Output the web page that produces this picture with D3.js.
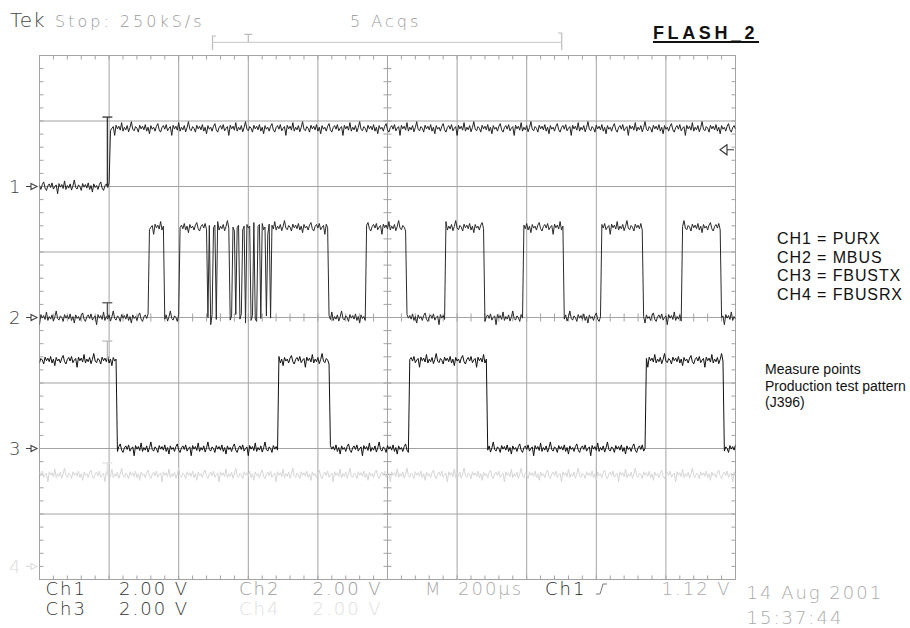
<!DOCTYPE html>
<html>
<head>
<meta charset="utf-8">
<script src="https://cdn.jsdelivr.net/npm/d3@7"></script>
<style>
  body { margin: 0; background: #fff; }
  .tek { font-family: "DejaVu Sans"; font-weight: 200; }
  .note { font-family: "Liberation Sans", Arial, sans-serif; }
</style>
</head>
<body>
<div id="chart"></div>
<script>
// time axis in µs: 200 µs/div, 10 div, trigger one division from the left
var timeDomain = [-200, 1800];
var sampleStep = 4;          // 250 kS/s
var voltsPerDiv = 2;

var channels = ["CH1", "CH2", "CH3", "CH4"];
var channelNames = ["PURX", "MBUS", "FBUSTX", "FBUSRX"];
var refDiv = [2, 4, 6, 7.8];            // ground marker, divisions from top

// [time µs, level V]; the level holds from that time on
var ch1Edges = [[-200, 0], [2, 1.78]];
var ch2Edges = [[-200, 0], [115, 2.76], [158, 0], [204, 2.76],
  [281, 0], [288, 2.76], [292, 0], [300, 2.76], [308, 0], [311, 2.76],
  [348, 0], [353, 2.76], [362, 0], [367, 2.76], [376, 0], [381, 2.76],
  [391, 0], [396, 2.76], [407, 0], [413, 2.76], [420, 0], [425, 2.76],
  [434, 0], [439, 2.76], [449, 0], [454, 2.76], [461, 0], [466, 2.76],
  [629, 0], [738, 2.76], [853, 0], [966, 2.76], [1080, 0], [1189, 2.76],
  [1308, 0], [1416, 2.76], [1535, 0], [1645, 2.76], [1760, 0]];
var ch3Edges = [[-200, 2.7], [21, 0], [487, 2.7], [633, 0], [863, 2.7],
  [1088, 0], [1542, 2.7], [1768, 0]];
var ch4Edges = [[-200, 2.8]];

var noise = [0.03, -0.09, 0.06, 0.14, -0.05, -0.12, 0.02, 0.08, -0.03, 0.11,
  -0.08, 0.00, 0.05, -0.22, 0.09, -0.02, 0.06, -0.06, 0.17, -0.09, 0.03,
  -0.05, 0.08, -0.11, 0.02, 0.20, -0.03, -0.08, 0.05, 0.00, -0.12, 0.09,
  -0.02, 0.06, -0.05, 0.11, -0.09, 0.03, -0.17, 0.08, -0.03];
var noiseOffset = [0, 13, 27, 7];

var trigMarkVolts = [2.12, 0.45, 3.28, 3.16];
var trigLevel = 1.12;   // Ch1 rising

var scaleLabels = [["Ch1", "2.00 V"], ["Ch2", "2.00 V"], ["Ch3", "2.00 V"], ["Ch4", "2.00 V"]];
var notes = ["Measure points", "Production test pattern", "(J396)"];

var edges = [ch1Edges, ch2Edges, ch3Edges, ch4Edges];
var traceColor = ["#222", "#2a2a2a", "#111", "#d6d6d6"];
var markColor = ["#444", "#444", "#444", "#ddd"];
var tColor = ["#333", "#555", "#bbb", "#e2e2e2"];

var W = 910, H = 628;
var plot = {left: 39.5, top: 55.5, right: 735.5, bottom: 579.5};

var svg = d3.select("#chart").append("svg")
  .attr("width", W).attr("height", H);

var x = d3.scaleLinear().domain(timeDomain).range([plot.left, plot.right]);
var y = d3.scaleLinear().domain([0, 8]).range([plot.top, plot.bottom]);

function yv(ch, v) { return y(refDiv[ch] - v / voltsPerDiv); }

function levelAt(list, t) {
  var i = d3.bisector(function(d) { return d[0]; }).right(list, t) - 1;
  return list[Math.max(0, i)][1];
}

// ---- graticule
var grid = svg.append("g").attr("stroke", "#a3a3a3").attr("stroke-width", 1).attr("fill", "none");
grid.append("rect")
  .attr("x", plot.left).attr("y", plot.top)
  .attr("width", plot.right - plot.left).attr("height", plot.bottom - plot.top);

var xDivs = d3.range(1, 10).map(function(k) { return timeDomain[0] + k * 200; });
grid.selectAll("line.v").data(xDivs).enter().append("line")
  .attr("x1", x).attr("x2", x).attr("y1", plot.top).attr("y2", plot.bottom);
grid.selectAll("line.h").data(d3.range(1, 8)).enter().append("line")
  .attr("y1", y).attr("y2", y).attr("x1", plot.left).attr("x2", plot.right);

var xMinor = d3.range(0, 51).map(function(k) { return timeDomain[0] + k * 40; });
var yMinor = d3.range(0, 41).map(function(k) { return k * 0.2; });
var xc = x(800), yc = y(4);
xMinor.forEach(function(t) {
  var px = x(t);
  grid.append("line").attr("x1", px).attr("x2", px).attr("y1", plot.top).attr("y2", plot.top + 4);
  grid.append("line").attr("x1", px).attr("x2", px).attr("y1", plot.bottom).attr("y2", plot.bottom - 4);
  grid.append("line").attr("x1", px).attr("x2", px).attr("y1", yc - 4).attr("y2", yc + 4);
});
yMinor.forEach(function(d) {
  var py = y(d);
  grid.append("line").attr("y1", py).attr("y2", py).attr("x1", plot.left).attr("x2", plot.left + 4);
  grid.append("line").attr("y1", py).attr("y2", py).attr("x1", plot.right).attr("x2", plot.right - 4);
  grid.append("line").attr("y1", py).attr("y2", py).attr("x1", xc - 4).attr("x2", xc + 4);
});

// ---- traces
svg.append("clipPath").attr("id", "clip").append("rect")
  .attr("x", plot.left).attr("y", plot.top)
  .attr("width", plot.right - plot.left).attr("height", plot.bottom - plot.top);

var times = d3.range(timeDomain[0], timeDomain[1] + 0.1, sampleStep);
var traces = svg.append("g").attr("clip-path", "url(#clip)");

[3, 0, 1, 2].forEach(function(ch) {
  var pts = times.map(function(t, i) {
    return [t, levelAt(edges[ch], t) + noise[(i + noiseOffset[ch]) % noise.length]];
  });
  var line = d3.line()
    .x(function(d) { return x(d[0]); })
    .y(function(d) { return yv(ch, d[1]); });
  traces.append("path").datum(pts)
    .attr("d", line)
    .attr("fill", "none")
    .attr("stroke", traceColor[ch])
    .attr("stroke-width", 1)
    .attr("stroke-linejoin", "round");
});

// trigger point "T" on each waveform
var tx = x(-5);
trigMarkVolts.forEach(function(v, ch) {
  var top = yv(ch, v), bot = yv(ch, levelAt(edges[ch], -5));
  var g = svg.append("g").attr("stroke", tColor[ch]).attr("stroke-width", 1.3);
  g.append("line").attr("x1", tx - 5).attr("x2", tx + 5).attr("y1", top).attr("y2", top);
  g.append("line").attr("x1", tx).attr("x2", tx).attr("y1", top).attr("y2", bot);
});

// ground markers at the left
channels.forEach(function(c, ch) {
  var py = yv(ch, 0);
  svg.append("text").attr("class", "tek")
    .attr("x", 9).attr("y", py + 6.5)
    .attr("font-size", 18).attr("fill", markColor[ch])
    .text(c.slice(2));
  svg.append("path")
    .attr("d", "M26," + py + "H31M31," + (py - 3) + "L37," + py + "L31," + (py + 3) + "Z")
    .attr("fill", "none").attr("stroke", markColor[ch]).attr("stroke-width", 1.1);
});

// trigger level marker at the right
var ty = yv(0, trigLevel);
svg.append("path")
  .attr("d", "M734," + ty + "H727M727," + (ty - 5) + "L720," + ty + "L727," + (ty + 5) + "Z")
  .attr("fill", "none").attr("stroke", "#333").attr("stroke-width", 1.1);

// ---- header
svg.append("text").attr("class", "tek").attr("x", 10).attr("y", 27)
  .attr("font-size", 20).attr("fill", "#444").attr("letter-spacing", 1).text("Tek");
svg.append("text").attr("class", "tek").attr("x", 55).attr("y", 27)
  .attr("font-size", 16).attr("fill", "#999").attr("letter-spacing", 3).text("Stop: 250kS/s");
svg.append("text").attr("class", "tek").attr("x", 350).attr("y", 27)
  .attr("font-size", 16).attr("fill", "#999").attr("letter-spacing", 3).text("5 Acqs");

// record view bracket
var rec = svg.append("g").attr("fill", "none").attr("stroke", "#bbb").attr("stroke-width", 1.2);
rec.append("path").attr("d", "M216,36H212.5V50");
rec.append("path").attr("d", "M558,33H561.7V50");
rec.append("line").attr("x1", 212.5).attr("x2", 561.7).attr("y1", 42.3).attr("y2", 42.3).attr("stroke", "#d0d0d0");
rec.append("path").attr("d", "M244.3,34.3H252.3M248.3,34.3V42.3");

svg.append("text").attr("class", "note").attr("x", 653).attr("y", 39)
  .attr("font-size", 18).attr("font-weight", "bold").attr("letter-spacing", 3.6)
  .attr("fill", "#111").text("FLASH_2");
svg.append("line").attr("x1", 653).attr("x2", 759).attr("y1", 42).attr("y2", 42)
  .attr("stroke", "#111").attr("stroke-width", 2);

// ---- channel legend and notes
channels.forEach(function(c, i) {
  svg.append("text").attr("class", "note")
    .attr("x", 777).attr("y", 244 + i * 18.5)
    .attr("font-size", 16).attr("letter-spacing", 0.9).attr("fill", "#111")
    .text(c + " = " + channelNames[i]);
});
notes.forEach(function(n, i) {
  svg.append("text").attr("class", "note")
    .attr("x", 765).attr("y", 374 + i * 16.5)
    .attr("font-size", 14).attr("fill", "#111")
    .text(n);
});

// ---- bottom readout
var labColor = ["#333", "#999", "#333", "#e0e0e0"];
scaleLabels.forEach(function(d, i) {
  var col = i % 2, row = Math.floor(i / 2);
  var bx = col ? 239 : 45.5, by = 595 + row * 20;
  svg.append("text").attr("class", "tek").attr("x", bx).attr("y", by)
    .attr("font-size", 18).attr("letter-spacing", 2).attr("fill", labColor[i]).text(d[0]);
  svg.append("text").attr("class", "tek").attr("x", bx + 73.5).attr("y", by)
    .attr("font-size", 18).attr("letter-spacing", 2).attr("fill", labColor[i]).text(d[1]);
});

var ro = svg.append("g").attr("class", "tek").attr("font-size", 18).attr("letter-spacing", 2);
ro.append("text").attr("x", 425).attr("y", 595).attr("fill", "#aaa").text("M");
ro.append("text").attr("x", 458).attr("y", 595).attr("fill", "#aaa").text("200µs");
ro.append("text").attr("x", 545).attr("y", 595).attr("fill", "#222").text("Ch1");
ro.append("text").attr("x", 661.5).attr("y", 595).attr("fill", "#aaa").text(trigLevel.toFixed(2) + " V");
svg.append("path").attr("d", "M596,594H600L603,584H607")
  .attr("fill", "none").attr("stroke", "#777").attr("stroke-width", 1);

ro.append("text").attr("x", 746.5).attr("y", 599).attr("fill", "#aaa").text("14 Aug 2001");
ro.append("text").attr("x", 746.5).attr("y", 624).attr("fill", "#aaa").text("15:37:44");
</script>
</body>
</html>
